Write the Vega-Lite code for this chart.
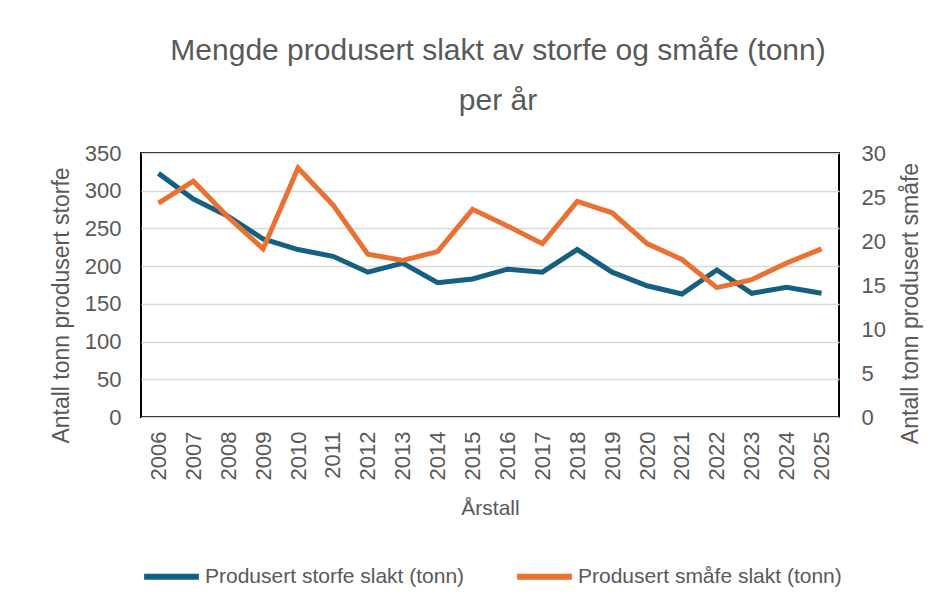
{
  "$schema": "https://vega.github.io/schema/vega-lite/v6.json",
  "width": 698,
  "height": 264,
  "autosize": {"type": "none"},
  "padding": {"left": 141, "top": 153, "right": 110, "bottom": 192},
  "background": "white",
  "title": {
    "text": ["Mengde produsert slakt av storfe og småfe (tonn)", "per år"],
    "font": "Liberation Sans",
    "fontSize": 30,
    "fontWeight": "normal",
    "color": "#595959",
    "lineHeight": 50,
    "offset": 26,
    "dx": 8
  },
  "config": {
    "view": {"stroke": "#000000", "strokeWidth": 2},
    "font": "Liberation Sans",
    "axis": {
      "labelFont": "Liberation Sans",
      "titleFont": "Liberation Sans",
      "labelColor": "#595959",
      "titleColor": "#595959",
      "labelFontSize": 22,
      "titleFontSize": 23,
      "titleFontWeight": "normal",
      "domain": false,
      "ticks": false,
      "gridColor": "#d9d9d9",
      "gridWidth": 1.5
    },
    "legend": {
      "labelFont": "Liberation Sans",
      "labelFontSize": 21,
      "labelColor": "#595959",
      "labelLimit": 0,
      "symbolType": "stroke",
      "symbolSize": 3000,
      "symbolStrokeWidth": 6,
      "labelOffset": 3,
      "columnPadding": 40
    }
  },
  "data": {
    "values": [
      {"year": "2006", "storfe": 323, "smaafe": 24.3},
      {"year": "2007", "storfe": 289, "smaafe": 26.8},
      {"year": "2008", "storfe": 266, "smaafe": 22.7},
      {"year": "2009", "storfe": 236, "smaafe": 19.1},
      {"year": "2010", "storfe": 222, "smaafe": 28.3},
      {"year": "2011", "storfe": 213, "smaafe": 24.1},
      {"year": "2012", "storfe": 192, "smaafe": 18.5},
      {"year": "2013", "storfe": 204, "smaafe": 17.8},
      {"year": "2014", "storfe": 178, "smaafe": 18.8},
      {"year": "2015", "storfe": 183, "smaafe": 23.6},
      {"year": "2016", "storfe": 196, "smaafe": 21.7},
      {"year": "2017", "storfe": 192, "smaafe": 19.7},
      {"year": "2018", "storfe": 222, "smaafe": 24.5},
      {"year": "2019", "storfe": 192, "smaafe": 23.2},
      {"year": "2020", "storfe": 174, "smaafe": 19.7},
      {"year": "2021", "storfe": 163, "smaafe": 17.9},
      {"year": "2022", "storfe": 195, "smaafe": 14.7},
      {"year": "2023", "storfe": 164, "smaafe": 15.6},
      {"year": "2024", "storfe": 172, "smaafe": 17.5},
      {"year": "2025", "storfe": 164, "smaafe": 19.1}
    ]
  },
  "encoding": {
    "x": {
      "field": "year",
      "type": "ordinal",
      "scale": {"padding": 0.5},
      "axis": {
        "title": "Årstall",
        "labelAngle": -90,
        "labelPadding": 14,
        "titlePadding": 18,
        "grid": false,
        "titleFontSize": 21
      }
    },
    "color": {
      "type": "nominal",
      "scale": {
        "domain": ["Produsert storfe slakt (tonn)", "Produsert småfe slakt (tonn)"],
        "range": ["#156082", "#e97132"]
      },
      "legend": {"orient": "bottom", "direction": "horizontal", "title": null, "offset": 27}
    }
  },
  "layer": [
    {
      "mark": {"type": "line", "strokeWidth": 5, "strokeJoin": "miter"},
      "encoding": {
        "y": {
          "field": "storfe",
          "type": "quantitative",
          "scale": {"domain": [0, 350], "nice": false},
          "axis": {
            "values": [0, 50, 100, 150, 200, 250, 300, 350],
            "title": "Antall  tonn produsert storfe",
            "labelPadding": 20,
            "titleAngle": -90,
            "titleBaseline": "middle",
            "titleX": -80,
            "titleY": 152
          }
        },
        "color": {"datum": "Produsert storfe slakt (tonn)"}
      }
    },
    {
      "mark": {"type": "line", "strokeWidth": 5, "strokeJoin": "miter"},
      "encoding": {
        "y": {
          "field": "smaafe",
          "type": "quantitative",
          "scale": {"domain": [0, 30], "nice": false},
          "axis": {
            "orient": "right",
            "grid": false,
            "values": [0, 5, 10, 15, 20, 25, 30],
            "title": "Antall tonn produsert småfe",
            "titleAngle": -90,
            "titleBaseline": "middle",
            "titleX": 71,
            "titleY": 150,
            "labelPadding": 22
          }
        },
        "color": {"datum": "Produsert småfe slakt (tonn)"}
      }
    }
  ],
  "resolve": {"scale": {"y": "independent"}}
}
